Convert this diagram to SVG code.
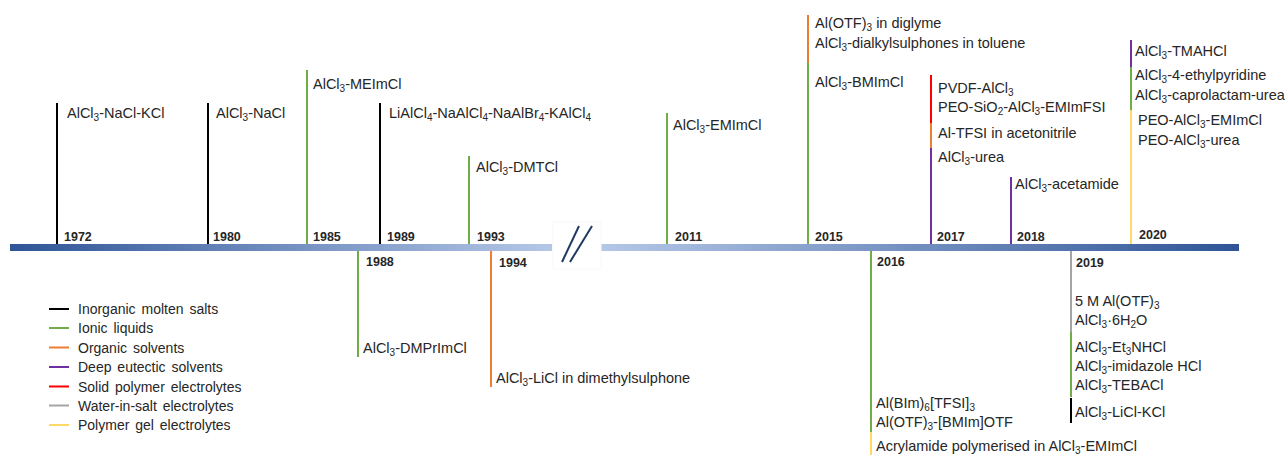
<svg xmlns="http://www.w3.org/2000/svg" width="1285" height="455" viewBox="0 0 1285 455">
<defs>
<linearGradient id="gL" x1="0" y1="0" x2="1" y2="0"><stop offset="0" stop-color="#2F5597"/><stop offset="1" stop-color="#B4C7E7"/></linearGradient>
<linearGradient id="gR" x1="0" y1="0" x2="1" y2="0"><stop offset="0" stop-color="#B4C7E7"/><stop offset="1" stop-color="#2F5597"/></linearGradient>
<style>
.t{font-family:"Liberation Sans",Arial,sans-serif;font-size:14.5px;fill:#262626}
.y{font-family:"Liberation Sans",Arial,sans-serif;font-size:12.5px;font-weight:bold;fill:#262626}
.lg{font-family:"Liberation Sans",Arial,sans-serif;font-size:14px;word-spacing:2px;fill:#262626}
.s{font-size:10px}
.k{stroke:#000;stroke-width:2}
.g{stroke:#70AD47;stroke-width:2}
.o{stroke:#ED7D31;stroke-width:2}
.p{stroke:#7030A0;stroke-width:2}
.r{stroke:#FF0000;stroke-width:2}
.gr{stroke:#A5A5A5;stroke-width:2}
.ye{stroke:#FFD966;stroke-width:2}
</style>
</defs>
<rect width="1285" height="455" fill="#fff"/>
<g id="timeline">
<rect x="10" y="244" width="542" height="7" fill="url(#gL)"/>
<rect x="601" y="244" width="638" height="7" fill="url(#gR)"/>
<rect x="553" y="222" width="48" height="47" fill="#fff" stroke="#f8f8f8" stroke-width="1"/>
<line x1="562" y1="262" x2="579" y2="226" stroke="#203864" stroke-width="2"/>
<line x1="570" y1="262" x2="592" y2="226" stroke="#203864" stroke-width="2"/>
</g>
<g id="connectors">
<line class="k" x1="57" y1="103" x2="57" y2="244"/>
<line class="k" x1="208" y1="103" x2="208" y2="244"/>
<line class="g" x1="307" y1="70" x2="307" y2="244"/>
<line class="k" x1="380" y1="103" x2="380" y2="244"/>
<line class="g" x1="469" y1="156" x2="469" y2="244"/>
<line class="g" x1="358" y1="251" x2="358" y2="357"/>
<line class="o" x1="491" y1="251" x2="491" y2="387"/>
<line class="g" x1="667" y1="113" x2="667" y2="244"/>
<line class="o" x1="808" y1="15" x2="808" y2="63"/>
<line class="g" x1="808" y1="63" x2="808" y2="244"/>
<line class="r" x1="931" y1="75" x2="931" y2="123"/>
<line class="o" x1="931" y1="123" x2="931" y2="148"/>
<line class="p" x1="931" y1="148" x2="931" y2="244"/>
<line class="p" x1="1011" y1="177" x2="1011" y2="244"/>
<line class="p" x1="1131" y1="40" x2="1131" y2="67"/>
<line class="g" x1="1131" y1="67" x2="1131" y2="110"/>
<line class="ye" x1="1131" y1="110" x2="1131" y2="244"/>
<line class="g" x1="871" y1="251" x2="871" y2="432"/>
<line class="ye" x1="871" y1="432" x2="871" y2="455"/>
<line class="gr" x1="1071" y1="251" x2="1071" y2="332"/>
<line class="g" x1="1071" y1="332" x2="1071" y2="397"/>
<line class="k" x1="1071" y1="398" x2="1071" y2="423"/>
</g>
<g id="y1972"><text class="y" x="64" y="241">1972</text><text class="t" x="67" y="118">AlCl<tspan class="s" dy="3">3</tspan><tspan dy="-3">-NaCl-KCl</tspan></text></g>
<g id="y1980"><text class="y" x="213" y="241">1980</text><text class="t" x="216" y="118">AlCl<tspan class="s" dy="3">3</tspan><tspan dy="-3">-NaCl</tspan></text></g>
<g id="y1985"><text class="y" x="313" y="241">1985</text><text class="t" x="313" y="89">AlCl<tspan class="s" dy="3">3</tspan><tspan dy="-3">-MEImCl</tspan></text></g>
<g id="y1989"><text class="y" x="387" y="241">1989</text><text class="t" x="389" y="118">LiAlCl<tspan class="s" dy="3">4</tspan><tspan dy="-3">-NaAlCl</tspan><tspan class="s" dy="3">4</tspan><tspan dy="-3">-NaAlBr</tspan><tspan class="s" dy="3">4</tspan><tspan dy="-3">-KAlCl</tspan><tspan class="s" dy="3">4</tspan></text></g>
<g id="y1993"><text class="y" x="477" y="241">1993</text><text class="t" x="476" y="172">AlCl<tspan class="s" dy="3">3</tspan><tspan dy="-3">-DMTCl</tspan></text></g>
<g id="y1988"><text class="y" x="366" y="266">1988</text><text class="t" x="363" y="353">AlCl<tspan class="s" dy="3">3</tspan><tspan dy="-3">-DMPrImCl</tspan></text></g>
<g id="y1994"><text class="y" x="499" y="267">1994</text><text class="t" x="496" y="383">AlCl<tspan class="s" dy="3">3</tspan><tspan dy="-3">-LiCl in dimethylsulphone</tspan></text></g>
<g id="y2011"><text class="y" x="675" y="241">2011</text><text class="t" x="673" y="130">AlCl<tspan class="s" dy="3">3</tspan><tspan dy="-3">-EMImCl</tspan></text></g>
<g id="y2015"><text class="y" x="815" y="241">2015</text>
<text class="t" x="815" y="28">Al(OTF)<tspan class="s" dy="3">3</tspan><tspan dy="-3"> in diglyme</tspan></text>
<text class="t" x="815" y="48">AlCl<tspan class="s" dy="3">3</tspan><tspan dy="-3">-dialkylsulphones  in toluene</tspan></text>
<text class="t" x="815" y="87">AlCl<tspan class="s" dy="3">3</tspan><tspan dy="-3">-BMImCl</tspan></text></g>
<g id="y2017"><text class="y" x="937" y="241">2017</text>
<text class="t" x="938" y="93">PVDF-AlCl<tspan class="s" dy="3">3</tspan></text>
<text class="t" x="938" y="112">PEO-SiO<tspan class="s" dy="3">2</tspan><tspan dy="-3">-AlCl</tspan><tspan class="s" dy="3">3</tspan><tspan dy="-3">-EMImFSI</tspan></text>
<text class="t" x="938" y="138">Al-TFSI in acetonitrile</text>
<text class="t" x="938" y="162">AlCl<tspan class="s" dy="3">3</tspan><tspan dy="-3">-urea</tspan></text></g>
<g id="y2018"><text class="y" x="1017" y="241">2018</text><text class="t" x="1015" y="189">AlCl<tspan class="s" dy="3">3</tspan><tspan dy="-3">-acetamide</tspan></text></g>
<g id="y2020"><text class="y" x="1139" y="239">2020</text>
<text class="t" x="1135" y="56">AlCl<tspan class="s" dy="3">3</tspan><tspan dy="-3">-TMAHCl</tspan></text>
<text class="t" x="1135" y="80">AlCl<tspan class="s" dy="3">3</tspan><tspan dy="-3">-4-ethylpyridine</tspan></text>
<text class="t" x="1135" y="100">AlCl<tspan class="s" dy="3">3</tspan><tspan dy="-3">-caprolactam-urea</tspan></text>
<text class="t" x="1138" y="125">PEO-AlCl<tspan class="s" dy="3">3</tspan><tspan dy="-3">-EMImCl</tspan></text>
<text class="t" x="1138" y="145">PEO-AlCl<tspan class="s" dy="3">3</tspan><tspan dy="-3">-urea</tspan></text></g>
<g id="y2016"><text class="y" x="877" y="266">2016</text>
<text class="t" x="876" y="408">Al(BIm)<tspan class="s" dy="3">6</tspan><tspan dy="-3">[TFSI]</tspan><tspan class="s" dy="3">3</tspan></text>
<text class="t" x="876" y="427">Al(OTF)<tspan class="s" dy="3">3</tspan><tspan dy="-3">-[BMIm]OTF</tspan></text>
<text class="t" x="876" y="451">Acrylamide polymerised in AlCl<tspan class="s" dy="3">3</tspan><tspan dy="-3">-EMImCl</tspan></text></g>
<g id="y2019"><text class="y" x="1076" y="267">2019</text>
<text class="t" x="1075" y="306">5 M Al(OTF)<tspan class="s" dy="3">3</tspan></text>
<text class="t" x="1075" y="325">AlCl<tspan class="s" dy="3">3</tspan><tspan dy="-3">·6H</tspan><tspan class="s" dy="3">2</tspan><tspan dy="-3">O</tspan></text>
<text class="t" x="1075" y="352">AlCl<tspan class="s" dy="3">3</tspan><tspan dy="-3">-Et</tspan><tspan class="s" dy="3">3</tspan><tspan dy="-3">NHCl</tspan></text>
<text class="t" x="1075" y="371">AlCl<tspan class="s" dy="3">3</tspan><tspan dy="-3">-imidazole  HCl</tspan></text>
<text class="t" x="1075" y="390">AlCl<tspan class="s" dy="3">3</tspan><tspan dy="-3">-TEBACl</tspan></text>
<text class="t" x="1075" y="417">AlCl<tspan class="s" dy="3">3</tspan><tspan dy="-3">-LiCl-KCl</tspan></text></g>
<g id="legend">
<line class="k" x1="49" y1="309" x2="69" y2="309"/><text class="lg" x="78" y="314">Inorganic molten salts</text>
<line class="g" x1="49" y1="328" x2="69" y2="328"/><text class="lg" x="78" y="333">Ionic liquids</text>
<line class="o" x1="49" y1="347.5" x2="69" y2="347.5"/><text class="lg" x="78" y="352.5">Organic solvents</text>
<line class="p" x1="49" y1="367" x2="69" y2="367"/><text class="lg" x="78" y="372">Deep eutectic solvents</text>
<line class="r" x1="49" y1="386.5" x2="69" y2="386.5"/><text class="lg" x="78" y="391.5">Solid polymer electrolytes</text>
<line class="gr" x1="49" y1="405.5" x2="69" y2="405.5"/><text class="lg" x="78" y="410.5">Water-in-salt electrolytes</text>
<line class="ye" x1="49" y1="425" x2="69" y2="425"/><text class="lg" x="78" y="430">Polymer gel electrolytes</text>
</g>
</svg>
